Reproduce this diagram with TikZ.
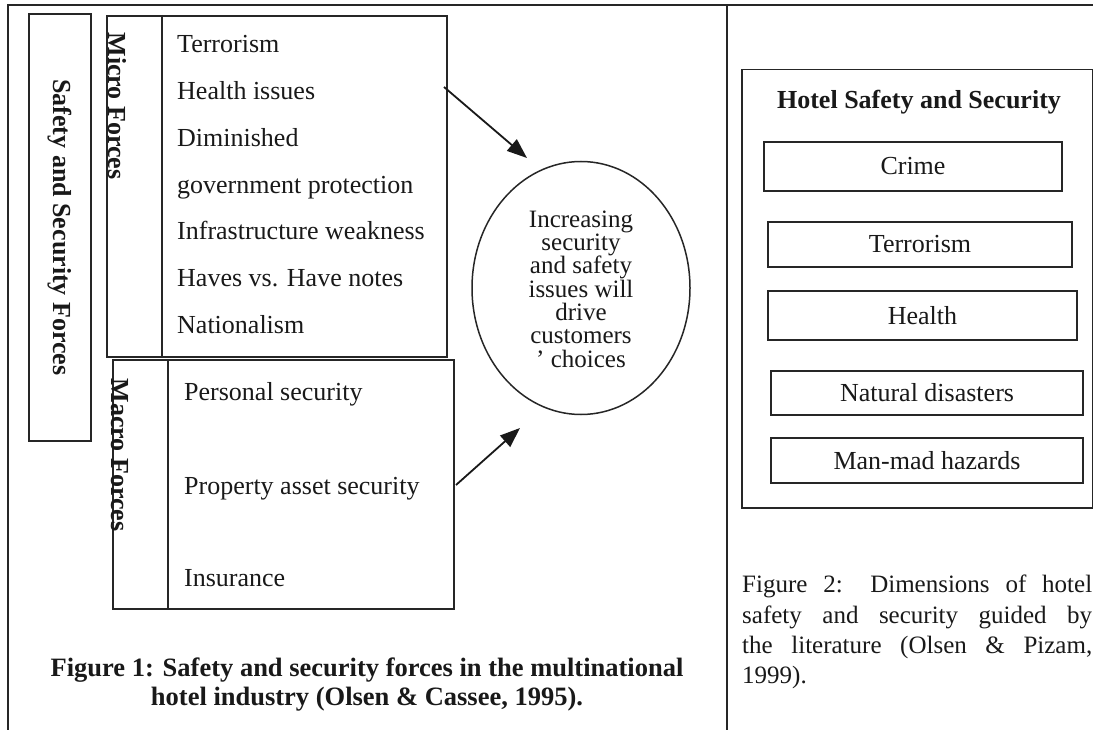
\documentclass[tikz,border=0pt]{standalone}
\usepackage{fontspec}
\setmainfont{Liberation Serif}
\usetikzlibrary{shapes.geometric,arrows.meta}
\begin{document}
\begin{tikzpicture}[x=1pt,y=-1pt,
  ln/.style={draw=black!85, line width=1.8pt},
  thin ln/.style={draw=black!85, line width=1.5pt},
  txt/.style={font=\fontsize{26}{30}\selectfont, text=black!90, inner sep=0pt},
  btxt/.style={font=\fontsize{26}{30}\selectfont\bfseries, text=black!90, inner sep=0pt},
  item/.style={txt, anchor=base west},
  captext/.style={font=\fontsize{25}{31}\selectfont, text=black!90, inner sep=0pt, anchor=base west},
  frame/.style={ln, rectangle, inner sep=0pt, anchor=north west},
  dimbox/.style={thin ln, rectangle, inner sep=0pt, txt},
  arr/.style={draw=black!90, line width=1.8pt, -{Triangle[length=20pt,width=15pt]}}]
\useasboundingbox (0,0) rectangle (1093,730);
\fill[white] (0,0) rectangle (1093,730);
% page frame
\draw[ln] (8,730) -- (8,5) -- (1093,5);
\draw[ln] (727,5) -- (727,730);

% ---------- Figure 1 ----------
\node[frame, minimum width=62pt, minimum height=427pt] (ssf) at (28,13) {};
\node[btxt, rotate=-90] (ssfl) at (ssf.center) {Safety and Security Forces};

\node[frame, minimum width=340pt, minimum height=341pt] (micro) at (106,15) {};
\draw[ln] (162,15) -- (162,356);
\node[btxt, rotate=-90] (microl) at (117,106) {Micro Forces};
\node[item] (m1) at (177,53) {Terrorism};
\node[item] (m2) at (177,100) {Health issues};
\node[item] (m3) at (177,147) {Diminished};
\node[item] (m4) at (177,194) {government protection};
\node[item] (m5) at (177,240) {Infrastructure weakness};
\node[item] (m6) at (177,287) {Haves vs. Have notes};
\node[item] (m7) at (177,334) {Nationalism};

\node[frame, minimum width=341pt, minimum height=249pt] (macro) at (112,359) {};
\draw[ln] (168,359) -- (168,608);
\node[btxt, rotate=-90] (macrol) at (120,455) {Macro Forces};
\node[item] (p1) at (184,400) {Personal security};
\node[item] (p2) at (184,494) {Property asset security};
\node[item] (p3) at (184,586) {Insurance};

\node[thin ln, ellipse, minimum width=218pt, minimum height=253pt, inner sep=0pt] (ell) at (581,288) {};
\node[inner sep=0pt, align=center, text=black!90,
      font=\fontsize{25}{23.3}\selectfont] (ellt) at (581,289)
  {Increasing\\security\\and safety\\issues will\\drive\\customers\\’ choices};

\coordinate (a1s) at (444,87);
\coordinate (a1e) at (527,158);
\coordinate (a2s) at (456,485);
\coordinate (a2e) at (520,428);
\draw[arr] (a1s) -- (a1e);
\draw[arr] (a2s) -- (a2e);

\node[inner sep=0pt, align=center, text=black!90,
      font=\fontsize{26.5}{29}\selectfont\bfseries, anchor=base] (cap1) at (367,705)
  {Figure 1: Safety and security forces in the multinational\\hotel industry (Olsen \& Cassee, 1995).};

% ---------- Figure 2 ----------
\node[thin ln, rectangle, inner sep=0pt, anchor=north west, minimum width=351pt, minimum height=438pt] (hss) at (741,69) {};
\node[btxt] (hsst) at (919,102) {Hotel Safety and Security};
\node[dimbox, minimum width=298pt, minimum height=49pt] (d1) at (913,166.5) {Crime};
\node[dimbox, minimum width=304pt, minimum height=45pt] (d2) at (920,244.5) {Terrorism};
\node[dimbox, minimum width=309pt, minimum height=49pt] (d3) at (922.5,315.5) {Health};
\node[dimbox, minimum width=312pt, minimum height=44pt] (d4) at (927,393) {Natural disasters};
\node[dimbox, minimum width=312pt, minimum height=45pt] (d5) at (927,460.5) {Man-mad hazards};

\node[captext] (c1) at (742,592) {\makebox[350pt][s]{Figure 2: Dimensions of hotel}};
\node[captext] (c2) at (742,623) {\makebox[350pt][s]{safety and security guided by}};
\node[captext] (c3) at (742,653) {\makebox[350pt][s]{the literature (Olsen \& Pizam,}};
\node[captext] (c4) at (742,683) {1999).};
\end{tikzpicture}
\end{document}
